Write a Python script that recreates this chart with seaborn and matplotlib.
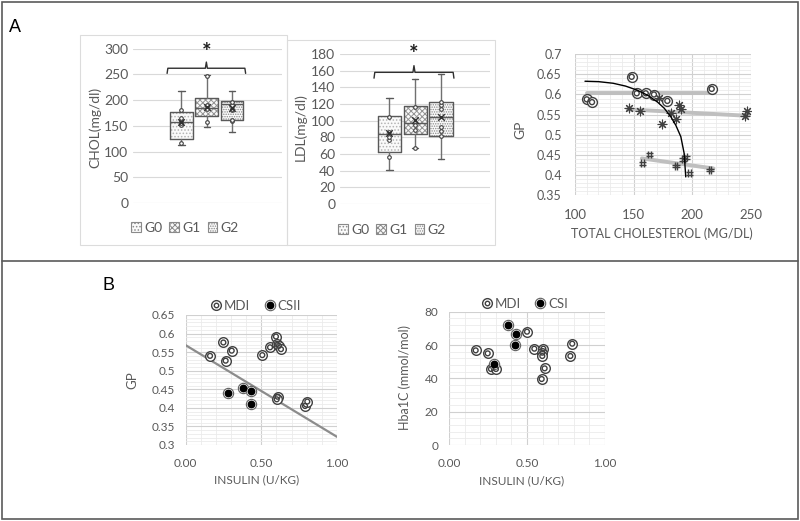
import numpy as np
import pandas as pd
import seaborn as sns
import matplotlib
matplotlib.use('Agg')
import matplotlib.pyplot as plt
from matplotlib.patches import Patch, Rectangle
from matplotlib.lines import Line2D
from matplotlib.path import Path
from matplotlib.ticker import MultipleLocator, FuncFormatter
from matplotlib.legend_handler import HandlerTuple

sns.set_theme(style='white')
plt.rcParams['font.family'] = ['Lato', 'DejaVu Sans']
plt.rcParams['hatch.linewidth'] = 0.7

# ---------------- data ----------------
groups = ['G0', 'G1', 'G2']
hatches = ['.....', 'xxxxxx', '.......']
hatch_colors = ['#b4b4b4', '#949494', '#8a8a8a']

chol_lo = [112, 147, 139]
chol_q1 = [124, 169, 161]
chol_med = [157, 184, 192]
chol_q3 = [176, 205, 198]
chol_hi = [218, 248, 217]
chol_mean = [157, 187, 185]
chol_pts_g = ['G0'] * 6 + ['G1'] * 5 + ['G2'] * 6
chol_pts = [116, 151, 155, 159, 165, 180,
            157, 183, 188, 191, 247,
            160, 162, 180, 183, 190, 196]

ldl_lo = [41, 67, 54]
ldl_q1 = [62, 84, 82]
ldl_med = [84, 97, 104]
ldl_q3 = [106, 118, 123]
ldl_hi = [127, 150, 156]
ldl_mean = [85, 101, 104]
ldl_pts_g = ['G0'] * 5 + ['G1'] * 4 + ['G2'] * 6
ldl_pts = [57, 77, 80, 87, 105,
           67, 89, 95, 116,
           82, 88, 93, 114, 119, 123]

# panel A right: GP vs total cholesterol (three groups)
circ_x = [110, 114.5, 148.3, 152.6, 160.3, 167.3, 178.7, 216.5]
circ_y = [0.588, 0.581, 0.644, 0.603, 0.603, 0.600, 0.584, 0.614]
ast_x = [146, 155.7, 171.6, 174, 181.6, 185.8, 188.7, 190.7, 245, 246.3]
ast_y = [0.567, 0.560, 0.591, 0.526, 0.553, 0.539, 0.574, 0.564, 0.547, 0.559]
hash_x = [157.4, 163.4, 186.1, 192.3, 194.4, 197.5, 215]
hash_y = [0.429, 0.451, 0.422, 0.439, 0.444, 0.404, 0.412]
trend_circ_x, trend_circ_y = [110, 217], [0.603, 0.603]
trend_ast_x, trend_ast_y = [145, 247.5], [0.563, 0.547]
trend_hash_x, trend_hash_y = [157, 218], [0.441, 0.416]
curve_x = [108.5, 120, 132.4, 143, 152.8, 162, 170, 176, 181.6, 186, 190.2, 193, 194.4]
curve_y = [0.633, 0.632, 0.628, 0.621, 0.611, 0.598, 0.582, 0.566, 0.545, 0.523, 0.495, 0.454, 0.395]

# panel B left: GP vs insulin
mdi_ins = [0.162, 0.25, 0.265, 0.305, 0.507, 0.558, 0.597, 0.602, 0.617, 0.63,
           0.608, 0.602, 0.789, 0.804]
mdi_gp = [0.540, 0.576, 0.527, 0.554, 0.542, 0.563, 0.592, 0.572, 0.567, 0.558,
          0.430, 0.423, 0.405, 0.417]
csii_ins = [0.283, 0.382, 0.43, 0.432]
csii_gp = [0.441, 0.454, 0.445, 0.410]
gp_trend_intercept = 0.569
gp_trend_slope = -0.247

# panel B right: HbA1c vs insulin
mdi_ins2 = [0.171, 0.248, 0.269, 0.301, 0.5, 0.547, 0.605, 0.598, 0.598, 0.594,
            0.613, 0.778, 0.79]
mdi_hba = [56.8, 55, 45.6, 45.6, 68, 57.8, 57.8, 55.4, 53.4, 39.6, 46, 53.4, 60.8]
csi_ins2 = [0.38, 0.43, 0.425, 0.286]
csi_hba = [71.8, 66.8, 59.8, 48.8]

# ---------------- layout helpers ----------------
W, H = 800, 521
fig = plt.figure(figsize=(8, 5.21), dpi=100)


def R(x0, y0, x1, y1):
    return [x0 / W, 1 - y1 / H, (x1 - x0) / W, (y1 - y0) / H]


def ftext(x, y, s, **kw):
    fig.text(x / W, 1 - y / H, s, **kw)


TXT = '#595959'
fmt_g = FuncFormatter(lambda v, p: ('%.2f' % v).rstrip('0').rstrip('.') if abs(v) > 1e-9 else '0')

# upright hash marker shape
HASH_MARKER = Path([(-0.35, -1), (-0.35, 1), (0.35, -1), (0.35, 1),
                    (-1, -0.35), (1, -0.35), (-1, 0.35), (1, 0.35)],
                   [Path.MOVETO, Path.LINETO] * 4)


def box_panel(rect, lo, q1, med, q3, hi, mean, pts_g, pts_v, ylim, ystep,
              xlim, brk, tick_fs=10):
    ax = fig.add_axes(R(*rect))
    stats = [dict(whislo=a, q1=b, med=c, q3=d, whishi=e, fliers=[], label=g)
             for a, b, c, d, e, g in zip(lo, q1, med, q3, hi, groups)]
    fill = ax.bxp(stats, positions=[0, 1, 2], widths=0.9, patch_artist=True,
                  showcaps=False, showfliers=False,
                  boxprops=dict(facecolor='#fafafa', linewidth=0),
                  whiskerprops=dict(linewidth=0), medianprops=dict(linewidth=0))
    for b, h, c in zip(fill['boxes'], hatches, hatch_colors):
        b.set_hatch(h)
        b.set_edgecolor(c)
    ax.bxp(stats, positions=[0, 1, 2], widths=0.9, patch_artist=False,
           showfliers=False, capwidths=0.25,
           boxprops=dict(color='#595959', lw=1),
           whiskerprops=dict(color='#707070', lw=1),
           capprops=dict(color='#595959', lw=1),
           medianprops=dict(color='#595959', lw=1))
    sns.stripplot(x=pts_g, y=pts_v, order=groups, jitter=False, size=2.6,
                  color='white', edgecolor='#404040', linewidth=0.8, ax=ax,
                  zorder=5)
    sns.scatterplot(x=[0, 1, 2], y=mean, marker='x', s=22, color='#303030',
                    linewidth=1, ax=ax, zorder=6)
    # significance bracket
    x0, x1, yh, yb, yt, ys = brk
    xm = (x0 + x1) / 2
    ax.plot([x0, x0 + 0.03, xm - 0.04, xm, xm + 0.04, x1 - 0.03, x1],
            [yh, yb, yb, yt, yb, yb, yh], color='#303030', lw=1,
            clip_on=False, solid_joinstyle='round')
    ax.text(xm, ys, '*', ha='center', va='center', fontsize=16,
            fontweight='bold', color='#202020')
    ax.set_ylim(*ylim)
    ax.set_xlim(*xlim)
    ax.yaxis.set_major_locator(MultipleLocator(ystep))
    ax.yaxis.grid(True, color='#d9d9d9', lw=0.8)
    ax.set_axisbelow(True)
    ax.set_xticks([])
    ax.set_xlabel('')
    ax.set_ylabel('')
    for s in ax.spines.values():
        s.set_visible(False)
    ax.tick_params(axis='y', length=0, pad=3.5, labelsize=tick_fs, labelcolor=TXT)
    return ax


# frames around the box panels
fig.add_artist(Rectangle((80 / W, 1 - 245 / H), 207 / W, 210 / H,
                         transform=fig.transFigure, fill=False,
                         edgecolor='#dcdcdc', lw=0.8))
fig.add_artist(Rectangle((287 / W, 1 - 245 / H), 208 / W, 205 / H,
                         transform=fig.transFigure, fill=False,
                         edgecolor='#dcdcdc', lw=0.8))

box_panel((133, 48.7, 282, 203), chol_lo, chol_q1, chol_med, chol_q3, chol_hi,
          chol_mean, chol_pts_g, chol_pts, (0, 300), 50, (-1.92, 3.98),
          (-0.57, 2.54, 252, 262, 274, 293))
ftext(95, 127, 'CHOL(mg/dl)', rotation=90, ha='center', va='center',
      fontsize=10, color=TXT)

box_panel((340, 54, 490, 204), ldl_lo, ldl_q1, ldl_med, ldl_q3, ldl_hi,
          ldl_mean, ldl_pts_g, ldl_pts, (0, 180), 20, (-1.92, 3.9),
          (-0.6, 2.5, 151, 158, 166, 180))
ftext(300, 127, 'LDL(mg/dl)', rotation=90, ha='center', va='center',
      fontsize=10, color=TXT)

box_handles = [Patch(facecolor='#fafafa', edgecolor='#8a8a8a', hatch=h, lw=0.8)
               for h in hatches]
for cx, cy in [(185, 228), (392, 230)]:
    fig.legend(box_handles, groups, loc='center',
               bbox_to_anchor=(cx / W, 1 - cy / H), ncol=3, frameon=False,
               handlelength=0.7, handleheight=0.7, handletextpad=0.25,
               columnspacing=0.5, fontsize=10, labelcolor=TXT)


def grid_axes(ax, xmaj, xmin, ymaj, ymin):
    ax.xaxis.set_major_locator(MultipleLocator(xmaj))
    ax.xaxis.set_minor_locator(MultipleLocator(xmin))
    ax.yaxis.set_major_locator(MultipleLocator(ymaj))
    ax.yaxis.set_minor_locator(MultipleLocator(ymin))
    ax.grid(True, which='major', color='#d0d0d0', lw=0.8)
    ax.grid(True, which='minor', color='#ebebeb', lw=0.6)
    ax.set_axisbelow(True)
    for s in ax.spines.values():
        s.set_visible(False)
    ax.tick_params(which='both', length=0, labelcolor=TXT)
    ax.set_xlabel('')
    ax.set_ylabel('')


def double_circle(ax, x, y, s_out=48, s_in=12, col='#404040'):
    sns.scatterplot(x=x, y=y, s=s_out, marker='o', facecolor='white',
                    edgecolor=col, linewidth=1.0, ax=ax, zorder=4)
    sns.scatterplot(x=x, y=y, s=s_in, marker='o', facecolor='none',
                    edgecolor=col, linewidth=1.0, ax=ax, zorder=5)


def black_circle(ax, x, y, s_out=55, s_in=32):
    sns.scatterplot(x=x, y=y, s=s_out, marker='o', facecolor='white',
                    edgecolor='#606060', linewidth=0.8, ax=ax, zorder=4)
    sns.scatterplot(x=x, y=y, s=s_in, marker='o', color='black',
                    linewidth=0, ax=ax, zorder=5)


# ---------------- panel A right ----------------
ax3 = fig.add_axes(R(575, 54.3, 751, 195))
sns.lineplot(x=trend_circ_x, y=trend_circ_y, color='#bfbfbf', lw=2.8, ax=ax3, zorder=2)
sns.lineplot(x=trend_ast_x, y=trend_ast_y, color='#bfbfbf', lw=2.8, ax=ax3, zorder=2)
sns.lineplot(x=trend_hash_x, y=trend_hash_y, color='#bfbfbf', lw=2.8, ax=ax3, zorder=2)
double_circle(ax3, circ_x, circ_y, s_out=50, s_in=13)
sns.scatterplot(x=ast_x, y=ast_y, marker=(8, 2, 0), s=40, color='#404040',
                linewidth=0.8, ax=ax3, zorder=5)
sns.scatterplot(x=hash_x, y=hash_y, marker=HASH_MARKER, s=30,
                facecolor='none', edgecolor='#404040',
                linewidth=1.0, ax=ax3, zorder=5)
sns.lineplot(x=curve_x, y=curve_y, sort=False, color='black', lw=1, ax=ax3, zorder=6)
ax3.set_xlim(100, 250)
ax3.set_ylim(0.35, 0.7)
grid_axes(ax3, 50, 10, 0.05, 0.01)
ax3.yaxis.set_major_formatter(fmt_g)
ax3.tick_params(axis='y', pad=9.5, labelsize=9)
ax3.tick_params(axis='x', pad=10, labelsize=9.5)
ftext(520, 130, 'GP', rotation=90, ha='center', va='center', fontsize=10, color=TXT)
ftext(662, 234, 'TOTAL CHOLESTEROL (MG/DL)', ha='center', va='center',
      fontsize=9, color=TXT)

# ---------------- panel B left ----------------
ax4 = fig.add_axes(R(185.5, 315, 337, 445))
xx = np.array([0, 1])
sns.lineplot(x=xx, y=gp_trend_intercept + gp_trend_slope * xx, color='#8c8c8c',
             lw=1.6, ax=ax4, zorder=3)
double_circle(ax4, mdi_ins, mdi_gp)
black_circle(ax4, csii_ins, csii_gp)
ax4.set_xlim(0, 1)
ax4.set_ylim(0.3, 0.65)
grid_axes(ax4, 0.5, 0.1, 0.05, 0.01)
ax4.yaxis.set_major_formatter(fmt_g)
ax4.xaxis.set_major_formatter(FuncFormatter(lambda v, p: '%.2f' % v))
ax4.tick_params(axis='y', pad=7.5, labelsize=8.5)
ax4.tick_params(axis='x', pad=9.5, labelsize=8.5)
ftext(132, 380, 'GP', rotation=90, ha='center', va='center', fontsize=9.5, color=TXT)
ftext(257, 480, 'INSULIN (U/KG)', ha='center', va='center', fontsize=8.5, color=TXT)

# ---------------- panel B right ----------------
ax5 = fig.add_axes(R(449, 311.7, 605, 445))
double_circle(ax5, mdi_ins2, mdi_hba)
black_circle(ax5, csi_ins2, csi_hba)
ax5.set_xlim(0, 1)
ax5.set_ylim(0, 80)
grid_axes(ax5, 0.5, 0.1, 20, 4)
ax5.xaxis.set_major_formatter(FuncFormatter(lambda v, p: '%.2f' % v))
ax5.tick_params(axis='y', pad=7.5, labelsize=8.5)
ax5.tick_params(axis='x', pad=9.5, labelsize=8.5)
ftext(405, 378, 'Hba1C (mmol/mol)', rotation=90, ha='center', va='center',
      fontsize=9, color=TXT)
ftext(522, 481, 'INSULIN (U/KG)', ha='center', va='center', fontsize=8.5, color=TXT)


def legend_handles():
    mdi = (Line2D([], [], ls='', marker='o', ms=7, mfc='white', mec='#404040', mew=1),
           Line2D([], [], ls='', marker='o', ms=3.2, mfc='none', mec='#404040', mew=1))
    cs = (Line2D([], [], ls='', marker='o', ms=7.5, mfc='white', mec='#606060', mew=0.8),
          Line2D([], [], ls='', marker='o', ms=5.6, mfc='black', mec='black', mew=0))
    return [mdi, cs]


for cx, cy, labs in [(255, 305.5, ['MDI', 'CSII']), (524, 304, ['MDI', 'CSI'])]:
    fig.legend(legend_handles(), labs, loc='center',
               bbox_to_anchor=(cx / W, 1 - cy / H), ncol=2, frameon=False,
               handlelength=1.0, handletextpad=0.1, columnspacing=1.0,
               fontsize=9.5, labelcolor=TXT,
               handler_map={tuple: HandlerTuple(ndivide=1, pad=0)})

# ---------------- outer frame & panel letters ----------------
frame_col = '#5a5a5a'
fig.add_artist(Rectangle((2 / W, 2 / H), 796 / W, 517 / H, transform=fig.transFigure,
                         fill=False, edgecolor=frame_col, lw=1.2))
fig.add_artist(Line2D([2 / W, 798 / W], [1 - 261 / H, 1 - 261 / H],
                      transform=fig.transFigure, color=frame_col, lw=1.2))
ftext(15, 27, 'A', ha='center', va='center', fontsize=13, color='black',
      family=['Liberation Sans', 'DejaVu Sans'])
ftext(108, 285, 'B', ha='center', va='center', fontsize=13, color='black',
      family=['Liberation Sans', 'DejaVu Sans'])

fig.savefig('out.png', dpi=100, facecolor='white')
